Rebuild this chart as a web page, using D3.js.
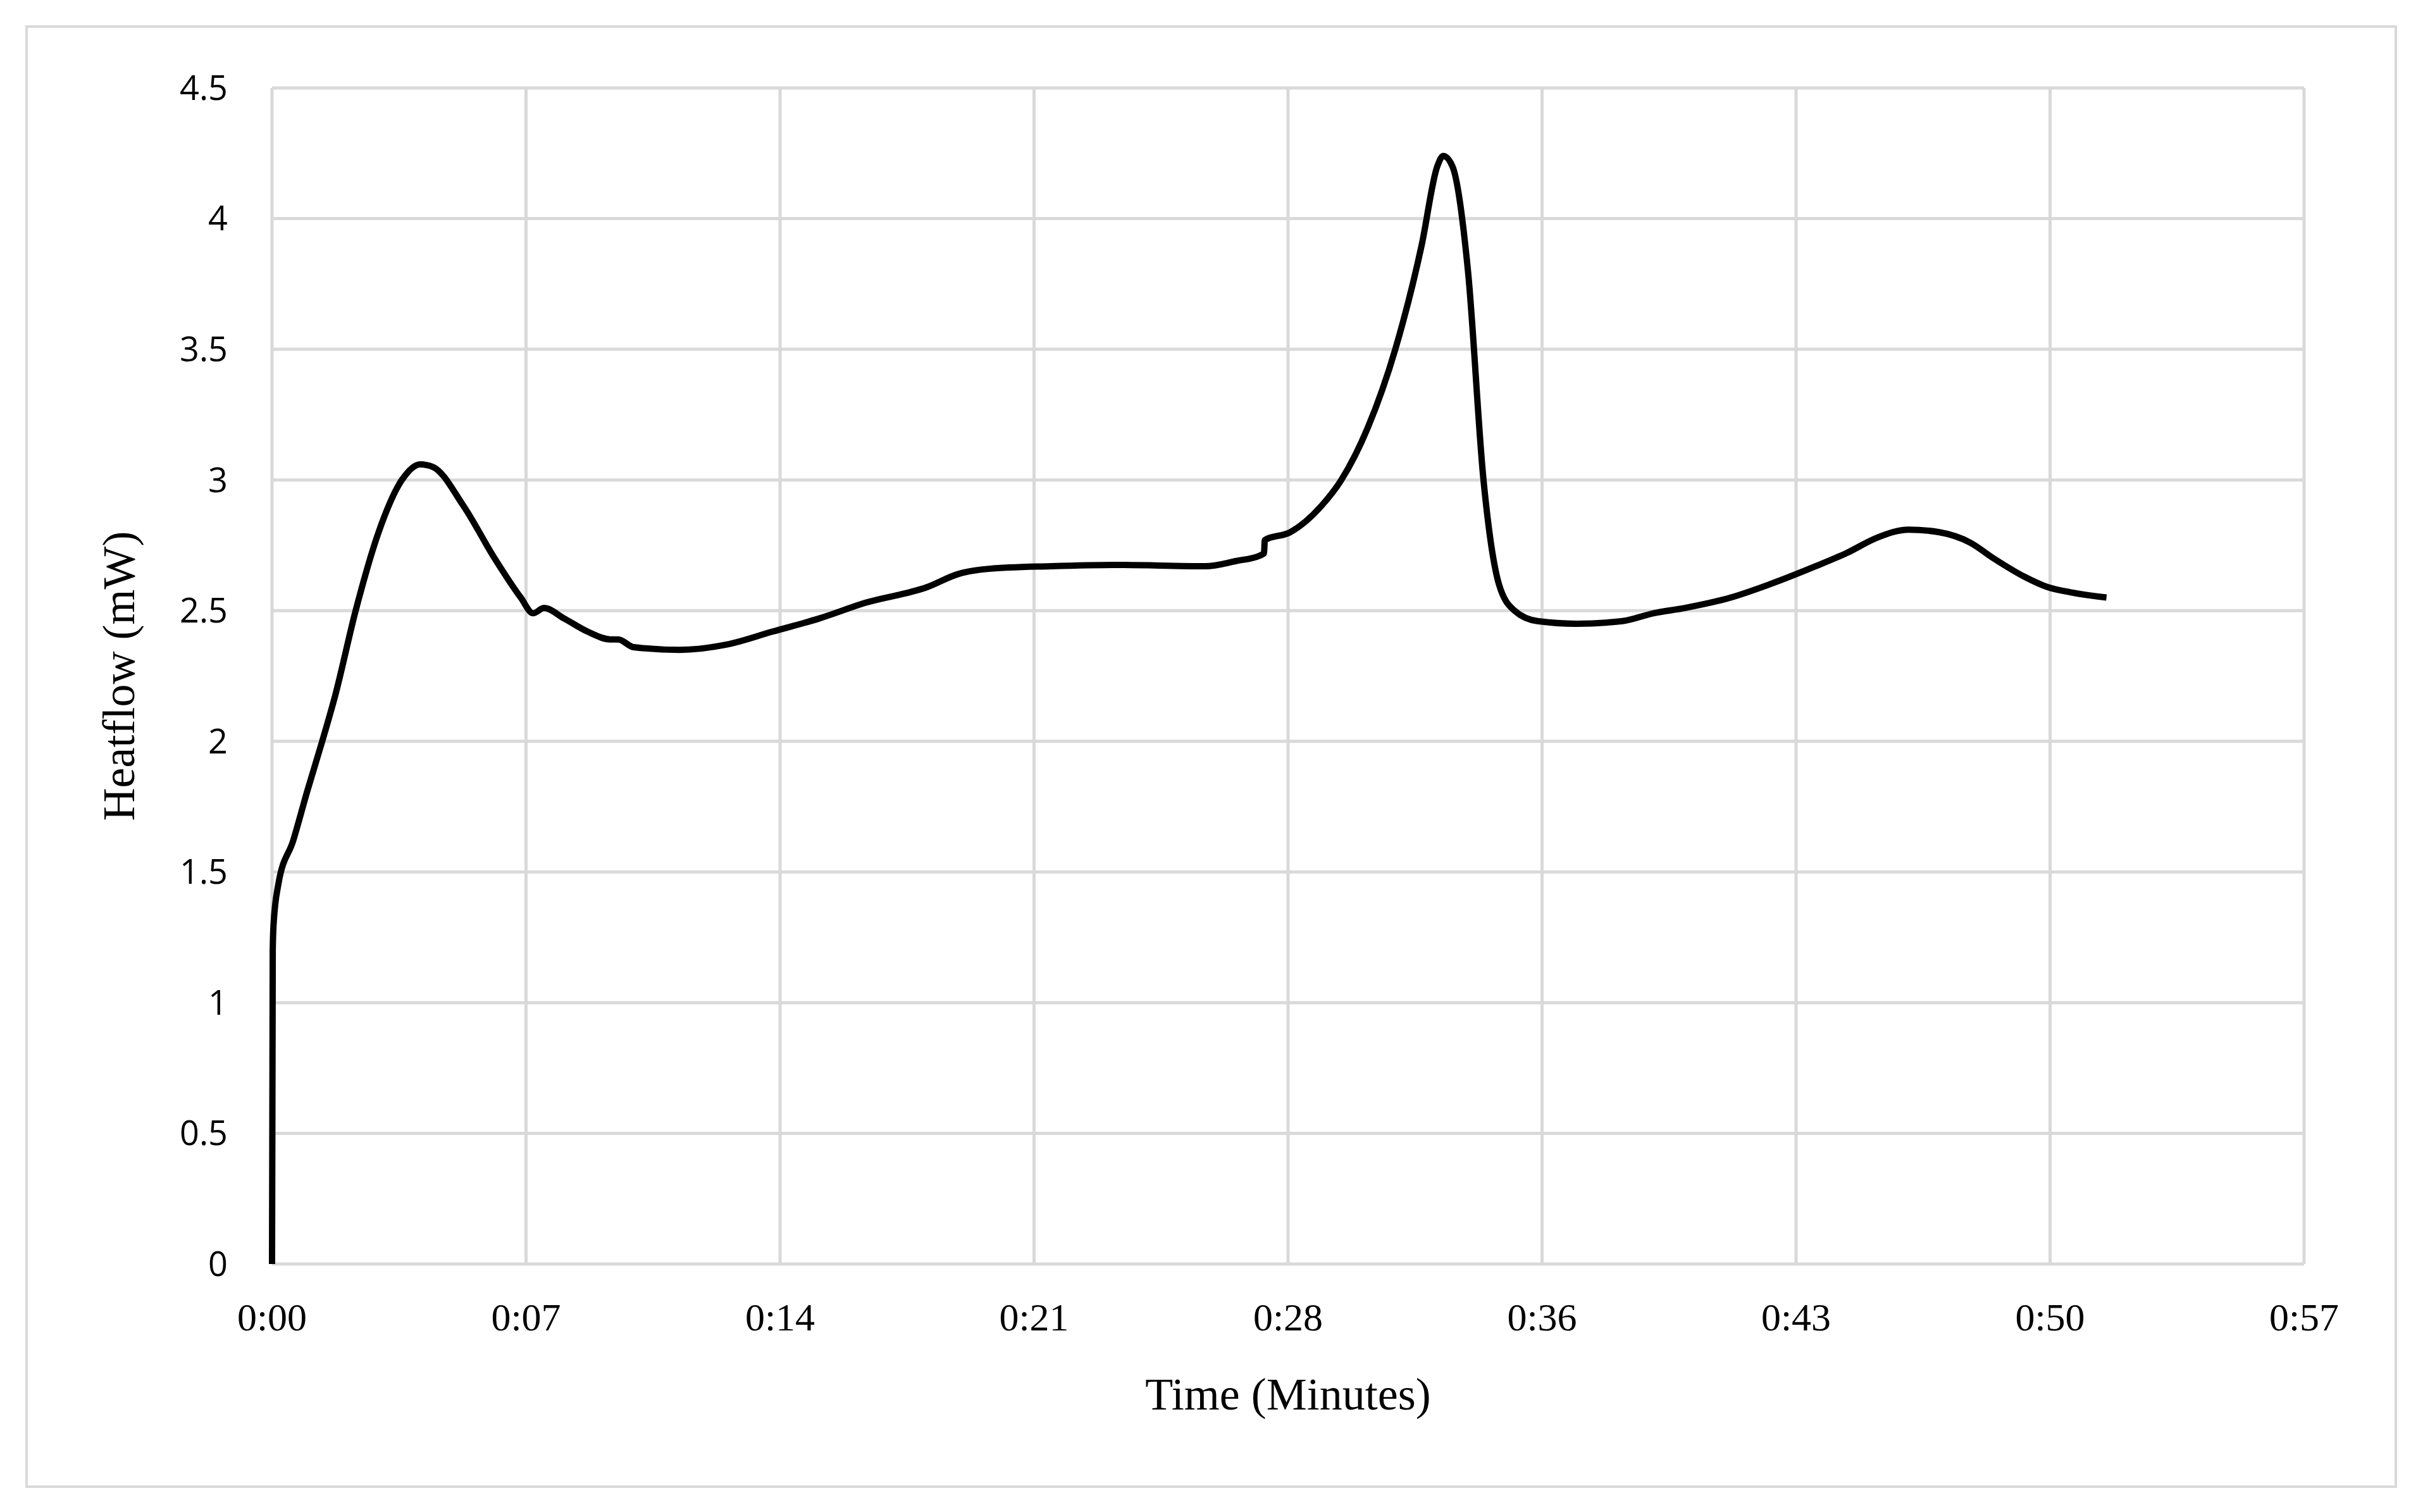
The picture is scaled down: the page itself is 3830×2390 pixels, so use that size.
<!DOCTYPE html><html><head><meta charset="utf-8"><script src="https://cdn.jsdelivr.net/npm/d3@7"></script>
<style>body{margin:0;background:#fff}</style></head><body><svg id="c" width="3830" height="2390"></svg><script>
const timeMin=[0,0.02,0.044,0.175,0.6,1.0,1.4,1.8,2.37,3.02,3.68,4.20,4.56,5.43,6.31,7.05,7.40,7.71,8.28,8.94,9.59,9.81,10.25,11.56,12.88,14.19,15.51,16.82,18.57,19.45,20.32,22.08,23.83,26.46,27.33,27.99,28.12,28.14,28.86,29.74,30.31,31.06,31.84,32.59,33.03,33.20,33.46,33.90,34.34,34.78,35.22,35.87,36.97,38.28,39.16,40.04,41.35,42.44,43.76,44.63,45.51,46.39,47.26,48.14,48.80,49.67,50.33,50.99,52.0];
const heatflow=[0,1.2,1.3,1.45,1.62,1.81,1.99,2.18,2.5,2.8,3.0,3.06,3.05,2.9,2.7,2.55,2.49,2.51,2.47,2.42,2.39,2.39,2.36,2.35,2.37,2.42,2.47,2.53,2.59,2.64,2.66,2.67,2.675,2.67,2.69,2.71,2.72,2.77,2.8,2.9,3.0,3.2,3.5,3.9,4.2,4.24,4.2,3.8,3.0,2.6,2.5,2.46,2.45,2.46,2.49,2.51,2.55,2.6,2.67,2.72,2.78,2.81,2.80,2.76,2.7,2.63,2.59,2.57,2.55];
const yTicks=[0,0.5,1,1.5,2,2.5,3,3.5,4,4.5];
const xTicks=[0,7.2,14.4,21.6,28.8,36,43.2,50.4,57.6];
const xLabels=["0:00","0:07","0:14","0:21","0:28","0:36","0:43","0:50","0:57"];
const svg=d3.select("#c");
svg.append("rect").attr("x",42).attr("y",42).attr("width",3745).attr("height",2308).attr("fill","#fff").attr("stroke","#d9d9d9").attr("stroke-width",4);
const L=430,R=3642,T=139,B=1998;
const x=d3.scaleLinear().domain([0,57.6]).range([L,R]);
const y=d3.scaleLinear().domain([0,4.5]).range([B,T]);
const g=svg.append("g");
g.selectAll(".h").data(yTicks).join("line").attr("x1",L).attr("x2",R).attr("y1",d=>y(d)).attr("y2",d=>y(d)).attr("stroke","#d9d9d9").attr("stroke-width",5);
g.selectAll(".v").data(xTicks).join("line").attr("x1",d=>x(d)).attr("x2",d=>x(d)).attr("y1",T).attr("y2",B).attr("stroke","#d9d9d9").attr("stroke-width",5);
g.selectAll(".yl").data(yTicks).join("text").attr("x",L-70).attr("y",d=>y(d)).attr("dy","0.35em").attr("text-anchor","end").attr("font-family","Open Sans, sans-serif").attr("font-size",54).text(d=>d);
g.selectAll(".xl").data(xTicks).join("text").attr("x",d=>x(d)).attr("y",B+105).attr("text-anchor","middle").attr("font-family","Liberation Serif, serif").attr("font-size",62).text((d,i)=>xLabels[i]);
svg.append("text").attr("x",(L+R)/2).attr("y",2228).attr("text-anchor","middle").attr("font-family","Liberation Serif, serif").attr("font-size",72).text("Time (Minutes)");
svg.append("text").attr("transform",`translate(212,${(T+B)/2}) rotate(-90)`).attr("text-anchor","middle").attr("font-family","Liberation Serif, serif").attr("font-size",72).text("Heatflow (mW)");
const line=d3.line().x((d,i)=>x(timeMin[i])).y(d=>y(d)).curve(d3.curveMonotoneX);
svg.append("path").attr("d",line(heatflow)).attr("fill","none").attr("stroke","#000").attr("stroke-width",10).attr("stroke-linejoin","round");
</script></body></html>
